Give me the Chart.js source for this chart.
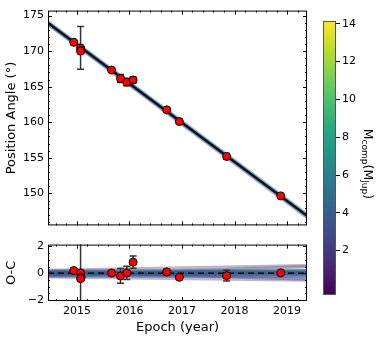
<!DOCTYPE html>
<html>
<head>
<meta charset="utf-8">
<script src="https://cdn.jsdelivr.net/npm/chart.js@4.4.0/dist/chart.umd.min.js"></script>
<style>
  body { margin: 0; background: #fff; }
  #wrap { position: relative; width: 383px; height: 340px; background: #fff; overflow: hidden; }
  canvas { position: absolute; }
</style>
</head>
<body>
<div id="wrap">
  <canvas id="top" width="320" height="236" style="left:0;top:0"></canvas>
  <canvas id="bot" width="320" height="106" style="left:0;top:234px"></canvas>
  <canvas id="cbar" width="73" height="340" style="left:310px;top:0"></canvas>
</div>
<script>
// observations
const epochs = [2014.94, 2015.07, 2015.08, 2015.07, 2015.66, 2015.83, 2015.95, 2016.07, 2016.71, 2016.95, 2017.85, 2018.88];
const pa     = [171.25, 170.45, 170.1, 170.0, 167.35, 166.15, 165.65, 165.95, 161.75, 160.1, 155.2, 149.65];
const paErr  = [0.2, 3.0, 0.2, 0.2, 0.15, 0.55, 0.5, 0.45, 0.25, 0.15, 0.4, 0.15];
const oc     = [0.2, 0.03, -0.3, -0.4, 0.02, -0.2, 0.03, 0.83, 0.1, -0.3, -0.18, 0.03];
const ocErr  = [0.15, 3.0, 0.15, 0.15, 0.12, 0.55, 0.5, 0.45, 0.2, 0.12, 0.4, 0.12];

// model orbits (value at the two plot edges)
const modelEpochs = [2014.45, 2019.38];
const topModelStart = [173.9, 174.05, 173.85, 174.0, 173.95];
const topModelEnd   = [146.75, 146.95, 146.7, 147.0, 146.85];
const topModelMass  = [3, 5, 1.5, 7, 4];
const bestStart = 173.95, bestEnd = 146.85;

const ocModelStart = [0.12, -0.18, 0.05, -0.1, 0.22, -0.28, 0.0, 0.08, -0.05];
const ocModelEnd   = [-0.45, 0.5, 0.32, -0.3, 0.58, -0.52, 0.15, 0.05, -0.1];
const ocModelMass  = [1, 2, 9, 6, 0.8, 1.5, 3.5, 3, 4];
const ocCoreStart  = [0.1, -0.12, 0.0];
const ocCoreEnd    = [0.12, -0.15, 0.02];

// ticks
const xTicks = [2015, 2016, 2017, 2018, 2019];
const paTicks = [150, 155, 160, 165, 170, 175];
const ocTicks = [-2, 0, 2];
const massTicks = [2, 4, 6, 8, 10, 12, 14];
const massMin = -0.35, massMax = 14.15;

const viridisStops = ['#440154','#482475','#414487','#355f8d','#2a788e','#21918c','#22a884','#44bf70','#7ad151','#bddf26','#fde725'];
function hex(c) { return [parseInt(c.slice(1,3),16), parseInt(c.slice(3,5),16), parseInt(c.slice(5,7),16)]; }
function viridis(m, a) {
  let t = Math.min(1, Math.max(0, (m - massMin) / (massMax - massMin))) * (viridisStops.length - 1);
  let i = Math.min(Math.floor(t), viridisStops.length - 2), f = t - i;
  let c0 = hex(viridisStops[i]), c1 = hex(viridisStops[i + 1]);
  let c = c0.map((v, k) => Math.round(v + (c1[k] - v) * f));
  return `rgba(${c[0]},${c[1]},${c[2]},${a})`;
}

const FONT = 'DejaVu Sans';
Chart.defaults.font.family = FONT;
Chart.defaults.color = '#000';

let lineOrder = 1;
function lineSet(y0, y1, color, width, dash, order) {
  return {
    type: 'scatter', showLine: true, pointRadius: 0, borderColor: color, borderWidth: width,
    borderDash: dash || [], order: order || 10,
    data: [{x: modelEpochs[0], y: y0}, {x: modelEpochs[1], y: y1}]
  };
}
function pointSet(ys) {
  return {
    type: 'scatter', order: 0, pointRadius: 4, pointBackgroundColor: '#ff0000', pointBorderColor: '#000',
    pointBorderWidth: 1, data: epochs.map((e, i) => ({x: e, y: ys[i]}))
  };
}

// inward ticks on all four sides plus frame, like matplotlib
function frameTicks(yMajor, yMinorStep) {
  return {
    id: 'frameTicks',
    afterDraw(chart) {
      const {ctx, chartArea: a, scales} = chart;
      ctx.save();
      ctx.strokeStyle = '#000';
      ctx.lineWidth = 1;
      const tick = (len, x, y, horiz) => {
        ctx.beginPath();
        if (horiz) { ctx.moveTo(a.left, y); ctx.lineTo(a.left + len, y); ctx.moveTo(a.right, y); ctx.lineTo(a.right - len, y); }
        else { ctx.moveTo(x, a.bottom); ctx.lineTo(x, a.bottom - len); ctx.moveTo(x, a.top); ctx.lineTo(x, a.top + len); }
        ctx.stroke();
      };
      for (let v = 2014.6; v < 2019.4; v += 0.2) {
        const major = Math.abs(v - Math.round(v)) < 1e-6;
        tick(major ? 4 : 2, Math.round(scales.x.getPixelForValue(v)) + 0.5, 0, false);
      }
      const y = scales.y;
      for (let v = Math.ceil(y.min / yMinorStep) * yMinorStep; v <= y.max; v += yMinorStep) {
        const major = yMajor.some(m => Math.abs(m - v) < 1e-6);
        tick(major ? 4 : 2, 0, Math.round(y.getPixelForValue(v)) + 0.5, true);
      }
      ctx.strokeRect(a.left + 0.5, a.top + 0.5, a.right - a.left - 1, a.bottom - a.top - 1);
      ctx.restore();
    }
  };
}

function errorBars(ys, errs, dsIndex) {
  return {
    id: 'errorBars',
    beforeDatasetDraw(chart, args) {
      if (args.index !== dsIndex) return;
      const {ctx, chartArea: a, scales} = chart;
      ctx.save();
      ctx.beginPath();
      ctx.rect(a.left, a.top, a.right - a.left, a.bottom - a.top);
      ctx.clip();
      ctx.strokeStyle = '#333';
      ctx.lineWidth = 1.5;
      epochs.forEach((e, i) => {
        const x = scales.x.getPixelForValue(e);
        const y0 = scales.y.getPixelForValue(ys[i] - errs[i]);
        const y1 = scales.y.getPixelForValue(ys[i] + errs[i]);
        ctx.beginPath();
        ctx.moveTo(x, y0); ctx.lineTo(x, y1);
        ctx.moveTo(x - 3.5, y0); ctx.lineTo(x + 3.5, y0);
        ctx.moveTo(x - 3.5, y1); ctx.lineTo(x + 3.5, y1);
        ctx.stroke();
      });
      ctx.restore();
    }
  };
}

const minusFmt = v => String(v).replace('-', '\u2212');

// ---- top panel ----
const topSets = [pointSet(pa)];
topModelStart.forEach((s, i) => topSets.push(lineSet(s, topModelEnd[i], viridis(topModelMass[i], 0.22), 4.5, null, 12)));
topSets.push(lineSet(bestStart, bestEnd, 'rgba(8,14,26,0.95)', 2.5, null, 5));

new Chart(document.getElementById('top'), {
  type: 'scatter',
  data: { datasets: topSets },
  options: {
    responsive: false, animation: false, devicePixelRatio: 1,
    layout: { padding: { left: 0, right: 13, top: 6, bottom: 0 } },
    plugins: { legend: { display: false }, tooltip: { enabled: false } },
    scales: {
      x: {
        type: 'linear', min: 2014.45, max: 2019.38,
        ticks: { display: false }, grid: { display: false, drawTicks: false }, border: { display: false },
        afterFit: s => { s.height = 4; }
      },
      y: {
        min: 145.5, max: 175.7,
        afterBuildTicks: s => { s.ticks = paTicks.map(v => ({ value: v })); },
        ticks: { font: { size: 11 }, color: '#000', padding: 4 },
        grid: { display: false, drawTicks: false }, border: { display: false },
        title: { display: true, text: 'Position Angle (°)', font: { size: 13 }, color: '#000', padding: { top: 4, bottom: 0 } },
        afterFit: s => { s.width = 48; }
      }
    }
  },
  plugins: [frameTicks(paTicks, 1), errorBars(pa, paErr, 0)]
});

// ---- O-C panel ----
const botSets = [pointSet(oc)];
ocModelStart.forEach((s, i) => botSets.push(lineSet(s, ocModelEnd[i], viridis(ocModelMass[i], 0.35), 3, null, 12)));
ocCoreStart.forEach((s, i) => botSets.push(lineSet(s, ocCoreEnd[i], viridis(3.5, 0.6), 5, null, 8)));
botSets.push(lineSet(0, 0, '#000', 1.5, [6, 4], 2));

new Chart(document.getElementById('bot'), {
  type: 'scatter',
  data: { datasets: botSets },
  options: {
    responsive: false, animation: false, devicePixelRatio: 1,
    layout: { padding: { left: 0, right: 13, top: 6, bottom: 0 } },
    plugins: { legend: { display: false }, tooltip: { enabled: false } },
    scales: {
      x: {
        type: 'linear', min: 2014.45, max: 2019.38,
        afterBuildTicks: s => { s.ticks = xTicks.map(v => ({ value: v })); },
        ticks: { font: { size: 11 }, color: '#000', padding: 4, maxRotation: 0, callback: v => String(v) },
        grid: { display: false, drawTicks: false }, border: { display: false },
        title: { display: true, text: 'Epoch (year)', font: { size: 13 }, color: '#000', padding: { top: 0, bottom: 5 } },
        afterFit: s => { s.height = 39; }
      },
      y: {
        min: -2.07, max: 2.14,
        afterBuildTicks: s => { s.ticks = ocTicks.map(v => ({ value: v })); },
        ticks: { font: { size: 11 }, color: '#000', padding: 4, callback: minusFmt },
        grid: { display: false, drawTicks: false }, border: { display: false },
        title: { display: true, text: 'O-C', font: { size: 13 }, color: '#000', padding: { top: 4, bottom: 0 } },
        afterFit: s => { s.width = 48; }
      }
    }
  },
  plugins: [frameTicks(ocTicks, 0.5), errorBars(oc, ocErr, 0)]
});

// ---- colour bar ----
const cbarPlugin = {
  id: 'cbar',
  beforeDatasetsDraw(chart) {
    const {ctx, chartArea: a} = chart;
    const g = ctx.createLinearGradient(0, a.bottom, 0, a.top);
    viridisStops.forEach((c, i) => g.addColorStop(i / (viridisStops.length - 1), c));
    ctx.save();
    ctx.fillStyle = g;
    ctx.fillRect(a.left, a.top, a.right - a.left, a.bottom - a.top);
    ctx.strokeStyle = '#555';
    ctx.lineWidth = 1;
    ctx.strokeRect(a.left + 0.5, a.top + 0.5, a.right - a.left - 1, a.bottom - a.top - 1);
    ctx.restore();
  },
  afterDraw(chart) {
    const {ctx, chartArea: a} = chart;
    const parts = [['M', 12.5, 0], ['comp', 9, 3], ['(M', 12.5, 0], ['Jup', 9, 3], [')', 12.5, 0]];
    ctx.save();
    let w = 0;
    parts.forEach(p => { ctx.font = `${p[1]}px ${FONT}`; w += ctx.measureText(p[0]).width; });
    ctx.translate(57, (a.top + a.bottom) / 2 + 6);
    ctx.rotate(Math.PI / 2);
    ctx.fillStyle = '#000';
    ctx.textBaseline = 'middle';
    let x = -w / 2;
    parts.forEach(p => {
      ctx.font = `${p[1]}px ${FONT}`;
      ctx.fillText(p[0], x, p[2]);
      x += ctx.measureText(p[0]).width;
    });
    ctx.restore();
  }
};

new Chart(document.getElementById('cbar'), {
  type: 'scatter',
  data: { datasets: [{ data: [] }] },
  options: {
    responsive: false, animation: false, devicePixelRatio: 1,
    layout: { padding: { left: 13, right: 0, top: 21, bottom: 45 } },
    plugins: { legend: { display: false }, tooltip: { enabled: false } },
    scales: {
      x: { display: false, min: 0, max: 1 },
      y: {
        position: 'right', min: massMin, max: massMax,
        afterBuildTicks: s => { s.ticks = massTicks.map(v => ({ value: v })); },
        ticks: { font: { size: 11 }, color: '#000', padding: 2 },
        grid: { drawOnChartArea: false, drawTicks: true, tickLength: 4, color: '#000' },
        border: { display: false },
        afterFit: s => { s.width = 47; }
      }
    }
  },
  plugins: [cbarPlugin]
});
</script>
</body>
</html>
